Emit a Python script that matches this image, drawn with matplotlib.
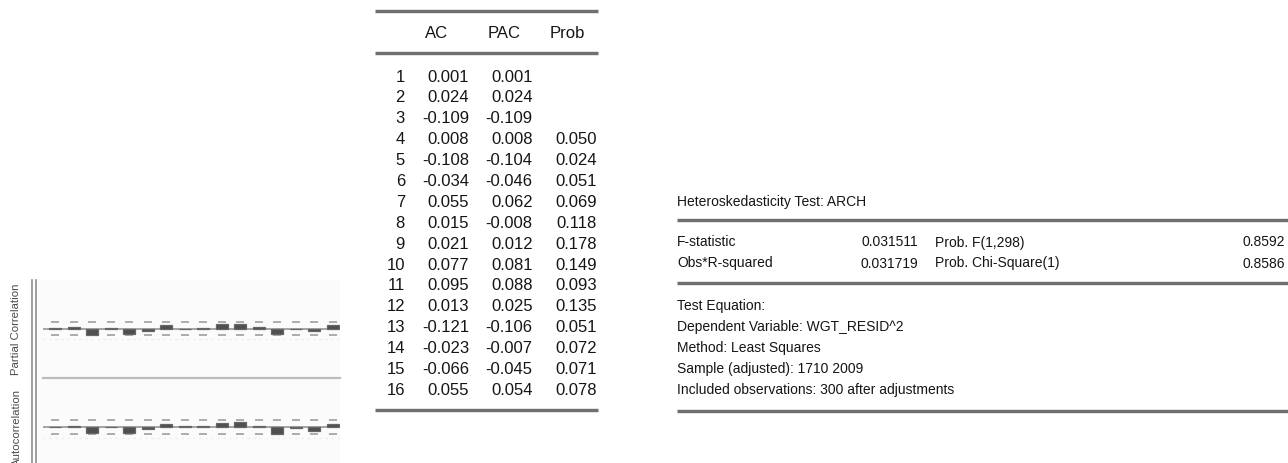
import matplotlib
matplotlib.use("Agg")
import matplotlib.pyplot as plt
from matplotlib import font_manager
import numpy as np

# ---- correlogram of squared standardized residuals ----
lags = list(range(1, 17))
ac = [0.001, 0.024, -0.109, 0.008, -0.108, -0.034, 0.055, 0.015,
      0.021, 0.077, 0.095, 0.013, -0.121, -0.023, -0.066, 0.055]
pac = [0.001, 0.024, -0.109, 0.008, -0.104, -0.046, 0.062, -0.008,
       0.012, 0.081, 0.088, 0.025, -0.106, -0.007, -0.045, 0.054]
prob = [None, None, None, 0.050, 0.024, 0.051, 0.069, 0.118,
        0.178, 0.149, 0.093, 0.135, 0.051, 0.072, 0.071, 0.078]
n_obs = 300
table_header = ["AC", "PAC", "Prob"]
row_labels = ["Partial Correlation", "Autocorrelation"]

# ---- ARCH LM test output ----
arch_title = "Heteroskedasticity Test: ARCH"
stat_names = ["F-statistic", "Obs*R-squared"]
stat_values = [0.031511, 0.031719]
prob_names = ["Prob. F(1,298)", "Prob. Chi-Square(1)"]
prob_values = [0.8592, 0.8586]
equation_notes = ["Test Equation:",
                  "Dependent Variable: WGT_RESID^2",
                  "Method: Least Squares",
                  "Sample (adjusted): 1710 2009",
                  "Included observations: 300 after adjustments"]

W, H = 1288, 463
DPI = 100
PX = 72.0 / DPI  # points per pixel

def has_font(name):
    try:
        font_manager.findfont(font_manager.FontProperties(family=name),
                              fallback_to_default=False)
        return True
    except ValueError:
        return False

BODY = ["Liberation Sans", "DejaVu Sans"]
if has_font("Liberation Sans Narrow"):
    SIDE, SIDE_SIZE = ["Liberation Sans Narrow", "DejaVu Sans"], 9.6
else:
    SIDE, SIDE_SIZE = BODY, 8.2

TXT = "#151515"
RULE = "#6f6f6f"

fig = plt.figure(figsize=(W / DPI, H / DPI), dpi=DPI)
fig.patch.set_facecolor("white")

# pixel-space canvas for rules and text
cv = fig.add_axes([0, 0, 1, 1])
cv.set_xlim(0, W)
cv.set_ylim(H, 0)
cv.axis("off")

def rule(x0, x1, y, lw=3.4, color=RULE):
    cv.plot([x0, x1], [y, y], color=color, lw=lw * PX, solid_capstyle="butt")

# ---------------- correlogram panel ----------------
cv.add_patch(plt.Rectangle((37, 280), 303, H - 280, facecolor="#fbfbfb",
                           edgecolor="none"))
for xv in (32, 36):
    cv.plot([xv, xv], [280, H], color="#8a8a8a", lw=1.6 * PX)
cv.plot([43, 340], [378, 378], color="#bcbcbc", lw=2.2 * PX)

for lbl, yc in zip(row_labels, [329.5, 427]):
    cv.text(16.5, yc, lbl, rotation=90, ha="center", va="center",
            family=SIDE, fontsize=SIDE_SIZE, color="#4a4a4a")

bound = 2.0 / np.sqrt(n_obs)
spacing = 18.5
lag_px0 = 55.3
x_left, x_right = 43, 340
xlo = 1 - (lag_px0 - x_left) / spacing
xhi = 16 + (x_right - (lag_px0 + 15 * spacing)) / spacing
band = 44.0
yl = 0.39

for values, yc in [(pac, 328.5), (ac, 427.0)]:
    ax = fig.add_axes([x_left / W, (H - (yc + band / 2)) / H,
                       (x_right - x_left) / W, band / H])
    ax.set_xlim(xlo, xhi)
    ax.set_ylim(-yl, yl)
    ax.axis("off")
    ax.patch.set_alpha(0)
    ax.axhline(-0.19, color="#ececec", lw=1.2 * PX, ls=(0, (2, 3)))
    ax.axhline(0, color="#8a8a8a", lw=1.5 * PX, zorder=2)
    ax.hlines([bound] * len(lags), np.array(lags) - 0.22, np.array(lags) + 0.22,
              color="#9a9a9a", lw=1.6 * PX)
    ax.hlines([-bound] * len(lags), np.array(lags) - 0.22, np.array(lags) + 0.22,
              color="#9a9a9a", lw=1.6 * PX)
    ax.bar(lags, values, width=0.66, color="#4f4f4f", edgecolor="#666666",
           linewidth=0.9, zorder=3)

# ---------------- AC / PAC / Q-stat table ----------------
tx0, tx1 = 375, 598
rule(tx0, tx1, 11.3)
rule(tx0, tx1, 52.5)
rule(tx0, tx1, 410)
for name, xc in zip(table_header, [436.7, 504.5, 567.5]):
    cv.text(xc, 38.5, name, ha="center", va="baseline", family=BODY,
            fontsize=12, color=TXT)

row0, row_step = 81.5, 20.9
for i, lag in enumerate(lags):
    yb = row0 + i * row_step
    cv.text(405, yb, str(lag), ha="right", va="baseline", family=BODY,
            fontsize=12, color=TXT)
    cv.text(469.3, yb, f"{ac[i]:.3f}", ha="right", va="baseline", family=BODY,
            fontsize=12, color=TXT)
    cv.text(532.7, yb, f"{pac[i]:.3f}", ha="right", va="baseline", family=BODY,
            fontsize=12, color=TXT)
    if prob[i] is not None:
        cv.text(596.7, yb, f"{prob[i]:.3f}", ha="right", va="baseline",
                family=BODY, fontsize=12, color=TXT)

# ---------------- ARCH test block ----------------
ax0 = 677
cv.text(ax0, 206, arch_title, ha="left", va="baseline", family=BODY,
        fontsize=10, color=TXT)
rule(ax0, W, 220)
for j, yb in enumerate([246.5, 267.5]):
    cv.text(ax0, yb, stat_names[j], ha="left", va="baseline", family=BODY,
            fontsize=10, color=TXT)
    cv.text(918.3, yb, f"{stat_values[j]:.6f}", ha="right", va="baseline",
            family=BODY, fontsize=10, color=TXT)
    cv.text(935, yb, prob_names[j], ha="left", va="baseline", family=BODY,
            fontsize=10, color=TXT)
    cv.text(1285, yb, f"{prob_values[j]:.4f}", ha="right", va="baseline",
            family=BODY, fontsize=10, color=TXT)
rule(ax0, W, 283.3)
for k, note in enumerate(equation_notes):
    cv.text(ax0, 310 + k * 20.9, note, ha="left", va="baseline", family=BODY,
            fontsize=10, color=TXT)
rule(ax0, W, 410.5)

fig.savefig("out.png", dpi=DPI, facecolor="white")
